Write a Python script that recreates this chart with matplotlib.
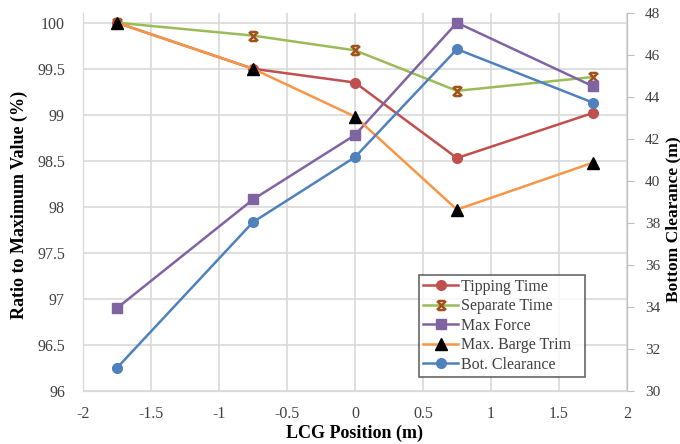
import matplotlib
matplotlib.use("Agg")
import matplotlib.pyplot as plt
from matplotlib.path import Path

lcg = [-1.75, -0.75, 0, 0.75, 1.75]
tipping_time = [100, 99.50, 99.35, 98.53, 99.02]
separate_time = [100, 99.86, 99.70, 99.26, 99.41]
max_force = [96.90, 98.08, 98.78, 100, 99.31]
max_barge_trim = [100, 99.50, 98.98, 97.97, 98.48]
bot_clearance = [31.1, 38.05, 41.15, 46.3, 43.75]

x_ticks = [-2, -1.5, -1, -0.5, 0, 0.5, 1, 1.5, 2]
left_ticks = [96, 96.5, 97, 97.5, 98, 98.5, 99, 99.5, 100]
right_ticks = [30, 32, 34, 36, 38, 40, 42, 44, 46, 48]

plt.rcParams['font.family'] = ['Liberation Serif', 'DejaVu Serif']

star = Path([(-1, -1), (1, 1), (-1, 1), (1, -1), (-0.7, 1), (0.7, 1), (-0.7, -1), (0.7, -1)],
            [Path.MOVETO, Path.LINETO, Path.MOVETO, Path.LINETO,
             Path.MOVETO, Path.LINETO, Path.MOVETO, Path.LINETO])

fig = plt.figure(figsize=(6.8, 4.44), dpi=100)
ax = fig.add_axes([0.122, 0.1194, 0.8, 0.8502])
ax2 = ax.twinx()

lw = 1.8
h1, = ax.plot(lcg, tipping_time, color='#C0504D', lw=lw, marker='o', ms=7,
              mfc='#C0504D', mec='#C0504D', label='Tipping Time')
h2, = ax.plot(lcg, separate_time, color='#9BBB59', lw=lw, marker=star, ms=6.5,
              mew=1.8, mec='#A0521A', mfc='none', label='Separate Time')
h3, = ax.plot(lcg, max_force, color='#8064A2', lw=lw, marker='s', ms=7,
              mfc='#8064A2', mec='#8064A2', label='Max Force')
h4, = ax.plot(lcg, max_barge_trim, color='#F79646', lw=lw, marker='^', ms=8,
              mfc='black', mec='black', label='Max. Barge Trim')
h5, = ax2.plot(lcg, bot_clearance, color='#4F81BD', lw=lw, marker='o', ms=7,
               mfc='#4F81BD', mec='#4F81BD', label='Bot. Clearance')

ax.set_xlim(-2, 2)
ax.set_ylim(96, 100.1)
ax.set_xticks(x_ticks)
ax.set_xticklabels([f"{t:g}" for t in x_ticks])
ax.set_yticks(left_ticks)
ax.set_yticklabels([f"{t:g}" for t in left_ticks])
ax2.set_ylim(30, 48)
ax2.set_yticks(right_ticks)

ax.grid(True, color='#D9D9D9', lw=1.2)
ax.set_axisbelow(True)
for a in (ax, ax2):
    for s in a.spines.values():
        s.set_color('#D9D9D9')
    a.spines['top'].set_visible(False)
ax2.spines['right'].set_color('#BFBFBF')

ax.tick_params(axis='x', length=0, labelsize=11.5, colors='#404040', pad=11)
ax.tick_params(axis='y', length=0, labelsize=11.5, colors='#404040', pad=13)
ax2.tick_params(axis='y', length=5, color='#BFBFBF', labelsize=11, labelcolor='#404040', pad=8)

fig.text(354.5 / 680, 1 - 433 / 444, 'LCG Position (m)', fontsize=13, fontweight='bold',
         ha='center', va='center')
fig.text(19 / 680, 1 - 205 / 444, 'Ratio to Maximum Value (%)', fontsize=13, fontweight='bold',
         ha='center', va='center', rotation=90)
fig.text(673 / 680, 1 - 219 / 444, 'Bottom Clearance (m)', fontsize=12.5, fontweight='bold',
         ha='center', va='center', rotation=90)

leg = ax2.legend(handles=[h1, h2, h3, h4, h5], loc='lower left',
                 bbox_to_anchor=(419 / 680, 1 - 377 / 444, 166 / 680, 107 / 444),
                 bbox_transform=fig.transFigure, mode='expand',
                 fontsize=11.5, frameon=True, fancybox=False, handlelength=2.2,
                 handletextpad=0.15, borderpad=0.25, labelspacing=0.22, borderaxespad=0)
leg.get_frame().set_edgecolor('#404040')
leg.get_frame().set_linewidth(1.2)
for t in leg.get_texts():
    t.set_color('#404040')

fig.savefig('out.png', dpi=100)
